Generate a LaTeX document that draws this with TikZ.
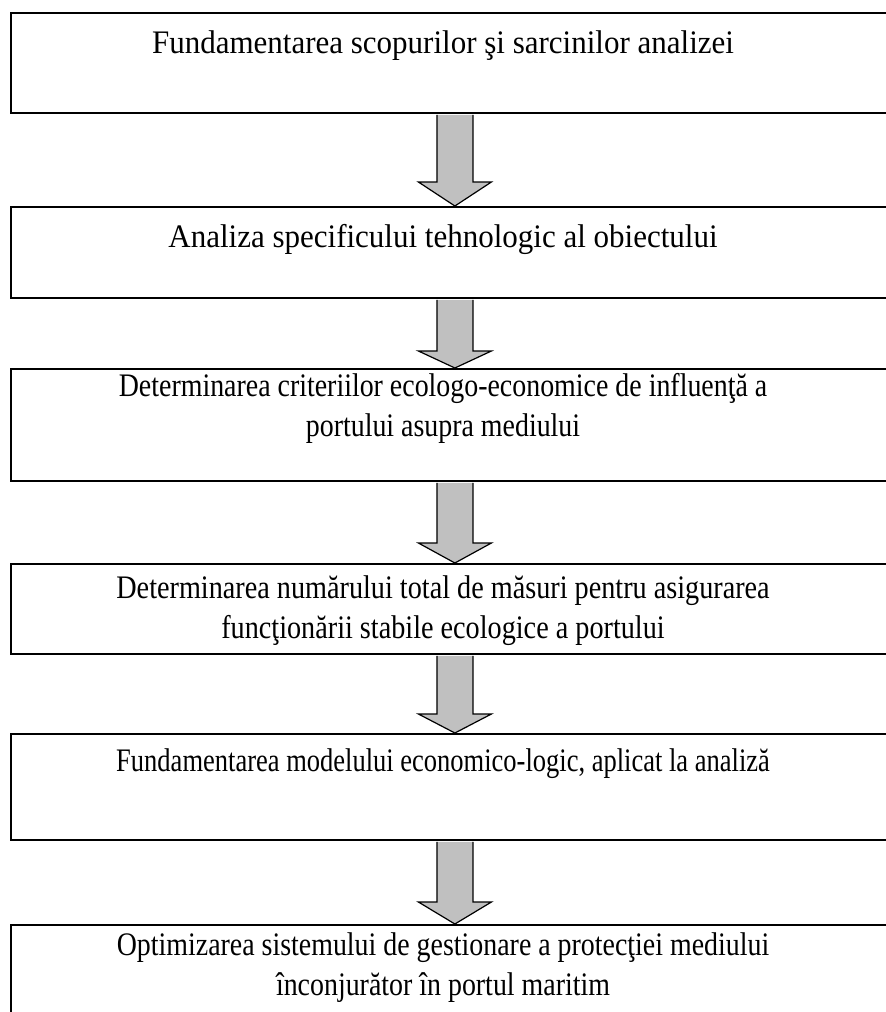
\documentclass[tikz,border=0pt]{standalone}
\usepackage{fontspec}
\setmainfont{Liberation Serif}
\usepackage{tikz}
\usetikzlibrary{positioning, calc}
\definecolor{arrowgray}{RGB}{192,192,192}

% one fat down arrow from the bottom of #1 to the top of #2, head length #3
\newcommand{\stagearrow}[3]{%
  \draw[fatarrow] ([xshift=-18pt,yshift=-1pt]#1.south)
    -- ([xshift=-18pt,yshift=#3]#2.north) -- ([xshift=-36.5pt,yshift=#3]#2.north)
    -- (#2.north)
    -- ([xshift=36.5pt,yshift=#3]#2.north) -- ([xshift=18pt,yshift=#3]#2.north)
    -- ([xshift=18pt,yshift=-1pt]#1.south);}

\begin{document}
\begin{tikzpicture}[
  x=1pt, y=-1pt,
  box/.style={rectangle, draw=black, line width=1.8pt, anchor=north west,
              minimum width=888pt, inner sep=0pt},
  lbl/.style={anchor=base, align=center, inner sep=0pt, yscale=1.06, transform shape,
              font=\fontsize{31}{37}\selectfont},
  narrow/.style={xscale=#1},
  fatarrow/.style={draw=black, line width=1.2pt, fill=arrowgray, line join=miter}
]
\useasboundingbox (0,0) rectangle (886,1012);
\clip (0,0) rectangle (886,1012);
\node[box, minimum height=100pt] (b1) at (10,12) {};
\node[box, minimum height=91pt] (b2) at (10,206) {};
\node[box, minimum height=112pt] (b3) at (10,368) {};
\node[box, minimum height=90pt] (b4) at (10,563) {};
\node[box, minimum height=106pt] (b5) at (10,733) {};
\node[box, minimum height=92pt] (b6) at (10,924) {};
\node[lbl] (t1) at (443,53) {Fundamentarea scopurilor şi sarcinilor analizei};
\node[lbl] (t2) at (443,247) {Analiza specificului tehnologic al obiectului};
\node[lbl, narrow=0.9] (t3) at (443,436) {Determinarea criteriilor ecologo-economice de influenţă a\\portului asupra mediului};
\node[lbl, narrow=0.91] (t4) at (443,638) {Determinarea numărului total de măsuri pentru asigurarea\\funcţionării stabile ecologice a portului};
\node[lbl, narrow=0.855] (t5) at (443,771) {Fundamentarea modelului economico-logic, aplicat la analiză};
\node[lbl, narrow=0.9] (t6) at (443,995) {Optimizarea sistemului de gestionare a protecţiei mediului\\înconjurător în portul maritim};
\stagearrow{b1}{b2}{24pt}
\stagearrow{b2}{b3}{17pt}
\stagearrow{b3}{b4}{20pt}
\stagearrow{b4}{b5}{19pt}
\stagearrow{b5}{b6}{22pt}
\end{tikzpicture}
\end{document}
